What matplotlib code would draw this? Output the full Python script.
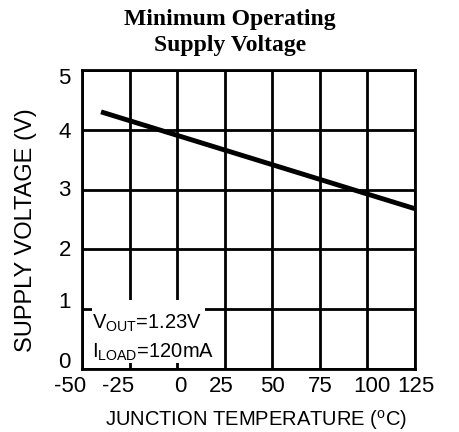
import matplotlib
matplotlib.use("Agg")
import matplotlib.pyplot as plt
from matplotlib.patches import Rectangle
from matplotlib.transforms import ScaledTranslation

temp = [-40, 125]
vmin = [4.3, 2.68]
xticks = [-50, -25, 0, 25, 50, 75, 100, 125]
yticks = [0, 1, 2, 3, 4, 5]

# label nudges (pixels) to mimic the scanned original's label placement
x_nudge = [-12, -12, 3, -3, 0, 0, 4, 1]
y_nudge = [9, 9, 1, 2, 0, -6]

plt.rcParams['font.family'] = ['Liberation Sans', 'DejaVu Sans']
fig = plt.figure(figsize=(4.59, 4.32), dpi=100)
ax = fig.add_axes([82/459, 1-369/432, 333/459, 299/432])
ax.set_xlim(-50, 125)
ax.set_ylim(0, 5)
ax.set_xticks(xticks)
ax.set_yticks(yticks)
ax.set_xticklabels([str(t) for t in xticks])
ax.set_yticklabels([str(t) for t in yticks])
ax.grid(True, color='black', linewidth=2)
for s in ax.spines.values():
    s.set_linewidth(2)
ax.tick_params(length=0, labelsize=16)
ax.tick_params(axis='y', pad=8)
ax.tick_params(axis='x', pad=5)
for lab, dx in zip(ax.get_xticklabels(), x_nudge):
    lab.set_transform(lab.get_transform() + ScaledTranslation(dx/100, 0, fig.dpi_scale_trans))
for lab, dy in zip(ax.get_yticklabels(), y_nudge):
    lab.set_transform(lab.get_transform() + ScaledTranslation(0, dy/100, fig.dpi_scale_trans))
ax.plot(temp, vmin, color='black', linewidth=3.5, solid_capstyle='butt', zorder=3)

ax.add_patch(Rectangle((-44.5, 0.1), 59, 1.05, facecolor='white', edgecolor='none', zorder=2.5))
ax.text(-44.8, 0.77, r'V$_{\mathregular{OUT}}$=1.23V', fontsize=14.5, va='center', ha='left', zorder=4)
ax.text(-44.8, 0.28, r'I$_{\mathregular{LOAD}}$=120mA', fontsize=14.5, va='center', ha='left', zorder=4)

fig.text(256/459, 1-420/432, r'JUNCTION TEMPERATURE ($^{\mathregular{o}}$C)', fontsize=14.5,
         ha='center', va='center')
fig.text(26/459, 1-230/432, 'SUPPLY VOLTAGE (V)', fontsize=17, rotation=90,
         ha='center', va='center')
fig.text(230/459, 1-20/432, 'Minimum Operating', ha='center', va='center',
         fontsize=17, fontweight='bold', family='Liberation Serif')
fig.text(230/459, 1-45/432, 'Supply Voltage', ha='center', va='center',
         fontsize=17, fontweight='bold', family='Liberation Serif')
fig.savefig('out.png', dpi=100)
